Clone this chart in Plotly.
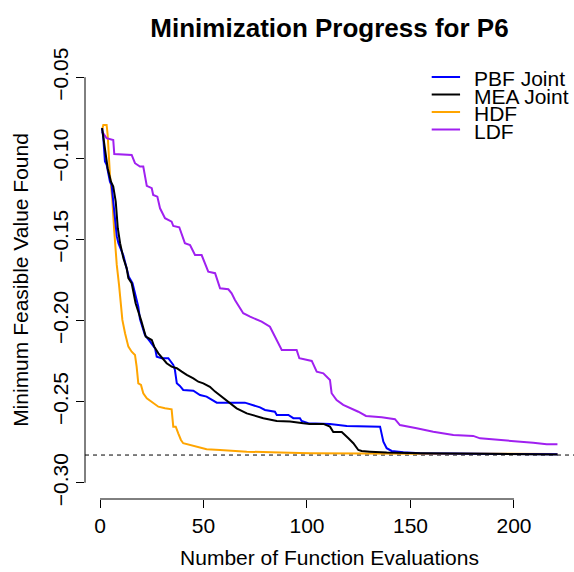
import plotly.graph_objects as go

# Best feasible objective value seen after each function evaluation, problem P6
pbf_x = [1, 1.6, 2.4, 3.2, 4.8, 5.6, 8.1, 8.9, 11.3, 12.9, 13.9, 15.7, 17.5, 18.5, 19.3,
         20.5, 21.7, 24.2, 26.6, 27.4, 29.8, 33, 35.4, 36.2, 37.1, 38.6, 40.2, 45.1, 48.3,
         51.5, 54.7, 56.4, 70, 73.3, 77.3, 79.7, 84.5, 85.4, 91, 93.4, 96.6, 97.4, 100.6,
         111.1, 119.2, 135.3, 136.1, 136.9, 138.5, 140.9, 146.5, 154.6, 221]
pbf_y = [-0.0814, -0.0876, -0.1020, -0.1040, -0.1144, -0.1165, -0.1480, -0.1523, -0.1600,
         -0.1678, -0.1730, -0.1770, -0.1870, -0.1914, -0.1990, -0.2040, -0.2089, -0.2130,
         -0.2171, -0.2223, -0.2232, -0.2232, -0.2274, -0.2305, -0.2387, -0.2403, -0.2428,
         -0.2432, -0.2459, -0.2469, -0.2494, -0.2506, -0.2506, -0.2520, -0.2535, -0.2551,
         -0.2562, -0.2582, -0.2582, -0.2602, -0.2602, -0.2619, -0.2633, -0.2637, -0.2650,
         -0.2654, -0.2695, -0.2747, -0.2787, -0.2804, -0.2812, -0.2818, -0.2824]

mea_x = [1, 2.4, 3.7, 5.3, 6.4, 7.6, 8.6, 9.7, 11.3, 12.9, 13.7, 15.3, 17.2, 19.8, 22.1,
         25, 26.2, 28.2, 30.6, 32.2, 34.6, 37.1, 39.5, 41.9, 45.1, 47.5, 49.9, 53.1, 55.6,
         58.8, 62.8, 66, 70.9, 74.9, 78.9, 85.4, 91.8, 98.2, 101.4, 107.9, 111.1, 112.7,
         116.8, 120, 122.4, 124.8, 126.4, 130.4, 138.5, 154.6, 221]
mea_y = [-0.0814, -0.0938, -0.1061, -0.1144, -0.1174, -0.1267, -0.1431, -0.1523, -0.1616,
         -0.1678, -0.1739, -0.1770, -0.1893, -0.1996, -0.2099, -0.2120, -0.2161, -0.2202,
         -0.2243, -0.2263, -0.2284, -0.2294, -0.2315, -0.2335, -0.2356, -0.2377, -0.2387,
         -0.2408, -0.2438, -0.2469, -0.2506, -0.2541, -0.2572, -0.2588, -0.2602, -0.2619,
         -0.2622, -0.2633, -0.2637, -0.2637, -0.2654, -0.2687, -0.2687, -0.2726, -0.2756,
         -0.2798, -0.2804, -0.2808, -0.2814, -0.2818, -0.2825]

hdf_x = [1, 1.6, 3.2, 3.7, 4.8, 5.9, 6.9, 8.1, 9.2, 9.7, 10.8, 12.1, 13.7, 15.3, 16.9,
         17.7, 18.5, 19.8, 20.9, 22.6, 25.7, 28.2, 31.4, 34.6, 35.4, 36.6, 37.8, 39.1,
         40.2, 43.5, 48.3, 51.5, 58, 70.9, 87, 101.4, 154.6, 221]
hdf_y = [-0.0825, -0.0794, -0.0794, -0.0856, -0.1102, -0.1246, -0.1452, -0.1657, -0.1781,
         -0.1853, -0.1996, -0.2078, -0.2161, -0.2192, -0.2212, -0.2284, -0.2387, -0.2397,
         -0.2448, -0.2479, -0.2510, -0.2531, -0.2541, -0.2547, -0.2654, -0.2654, -0.2695,
         -0.2736, -0.2756, -0.2767, -0.2781, -0.2793, -0.2798, -0.2808, -0.2814, -0.2818,
         -0.2821, -0.2822]

ldf_x = [1, 3.2, 6.4, 6.9, 15.3, 16.9, 19.3, 20.9, 22.6, 25, 25.7, 27.7, 29, 31.4, 34.6,
         35.4, 38.3, 41, 43.5, 45.9, 49.1, 52.3, 55.6, 58, 62, 63.6, 65.2, 69.2, 72.5,
         78.1, 82.1, 85.4, 87.8, 95, 96.3, 102.3, 104.7, 107.9, 111.1, 111.9, 114.3, 117.5,
         121.6, 124.8, 128.5, 136.1, 142.5, 144.9, 153, 161, 170.7, 180.3, 183.6, 193.2,
         202.9, 209.3, 215.8, 221]
ldf_y = [-0.0835, -0.0876, -0.0887, -0.0973, -0.0979, -0.1030, -0.1051, -0.1051, -0.1170,
         -0.1184, -0.1226, -0.1236, -0.1308, -0.1369, -0.1390, -0.1417, -0.1425, -0.1523,
         -0.1534, -0.1596, -0.1596, -0.1699, -0.1708, -0.1801, -0.1807, -0.1832, -0.1873,
         -0.1955, -0.1976, -0.2007, -0.2038, -0.2120, -0.2181, -0.2181, -0.2232, -0.2249,
         -0.2315, -0.2325, -0.2366, -0.2448, -0.2490, -0.2520, -0.2541, -0.2562, -0.2588,
         -0.2596, -0.2608, -0.2644, -0.2664, -0.2685, -0.2705, -0.2711, -0.2726, -0.2736,
         -0.2742, -0.2753, -0.2763, -0.2763]

# Known optimum drawn as a dashed reference line
best_known = -0.2829

x_ticks = [0, 50, 100, 150, 200]
y_ticks = [-0.30, -0.25, -0.20, -0.15, -0.10, -0.05]

series = [
    ("PBF Joint", pbf_x, pbf_y, "#0000FF"),
    ("MEA Joint", mea_x, mea_y, "#000000"),
    ("HDF", hdf_x, hdf_y, "#FFA500"),
    ("LDF", ldf_x, ldf_y, "#A020F0"),
]
draw_order = ["HDF", "LDF", "PBF Joint", "MEA Joint"]

FONT = "Liberation Sans, Arial, Helvetica, sans-serif"

fig = go.Figure()
lookup = {s[0]: s for s in series}
for name in draw_order:
    _, xs, ys, col = lookup[name]
    fig.add_trace(go.Scatter(x=xs, y=ys, mode="lines", name=name,
                             line=dict(color=col, width=2), showlegend=False))

shapes = [
    # dashed optimum line across the plotting region
    dict(type="line", xref="paper", yref="y", x0=0, x1=1, y0=best_known, y1=best_known,
         line=dict(color="black", width=1, dash="4px,4px"), layer="below"),
    # base-graphics style axis lines spanning first to last tick
    dict(type="line", xref="x", yref="paper", x0=x_ticks[0], x1=x_ticks[-1], y0=0, y1=0,
         line=dict(color="black", width=1)),
    dict(type="line", xref="paper", yref="y", x0=0, x1=0, y0=y_ticks[0], y1=y_ticks[-1],
         line=dict(color="black", width=1)),
]

# Legend in the top-right corner
annotations = []
leg_x0, leg_x1, leg_tx = 0.709, 0.767, 0.792
leg_rows = [0.9635, 0.9235, 0.8836, 0.8436]
for (name, _, _, col), ly in zip(series, leg_rows):
    shapes.append(dict(type="line", xref="paper", yref="paper", x0=leg_x0, x1=leg_x1,
                       y0=ly, y1=ly, line=dict(color=col, width=2)))
    annotations.append(dict(xref="paper", yref="paper", x=leg_tx, y=ly, text=name,
                            showarrow=False, xanchor="left", yanchor="middle",
                            font=dict(family=FONT, size=21, color="black"), yshift=-2))

fig.update_layout(
    width=574, height=572,
    margin=dict(l=85, r=0, t=61, b=73),
    paper_bgcolor="white", plot_bgcolor="white",
    font=dict(family=FONT, size=21, color="black"),
    title=dict(text="<b>Minimization Progress for P6</b>", x=0.5, xref="paper",
               y=1 - 28 / 572, yref="container", yanchor="middle", xanchor="center",
               font=dict(family=FONT, size=26, color="black")),
    shapes=shapes,
    annotations=annotations,
    showlegend=False,
)
fig.update_xaxes(range=[-7.25, 229], tickvals=x_ticks, ticks="outside", ticklen=8,
                 tickwidth=1, tickcolor="black", showgrid=False, zeroline=False,
                 showline=False, tickfont=dict(size=21),
                 title=dict(text="Number of Function Evaluations", standoff=14,
                            font=dict(size=21)))
fig.update_yaxes(range=[-0.31, -0.04], tickvals=y_ticks, tickformat=".2f", tickangle=-90,
                 ticks="outside", ticklen=8, tickwidth=1, tickcolor="black",
                 showgrid=False, zeroline=False, showline=False, tickfont=dict(size=21),
                 title=dict(text="Minimum Feasible Value Found", standoff=14,
                            font=dict(size=21)))

fig.write_html("out.html")
